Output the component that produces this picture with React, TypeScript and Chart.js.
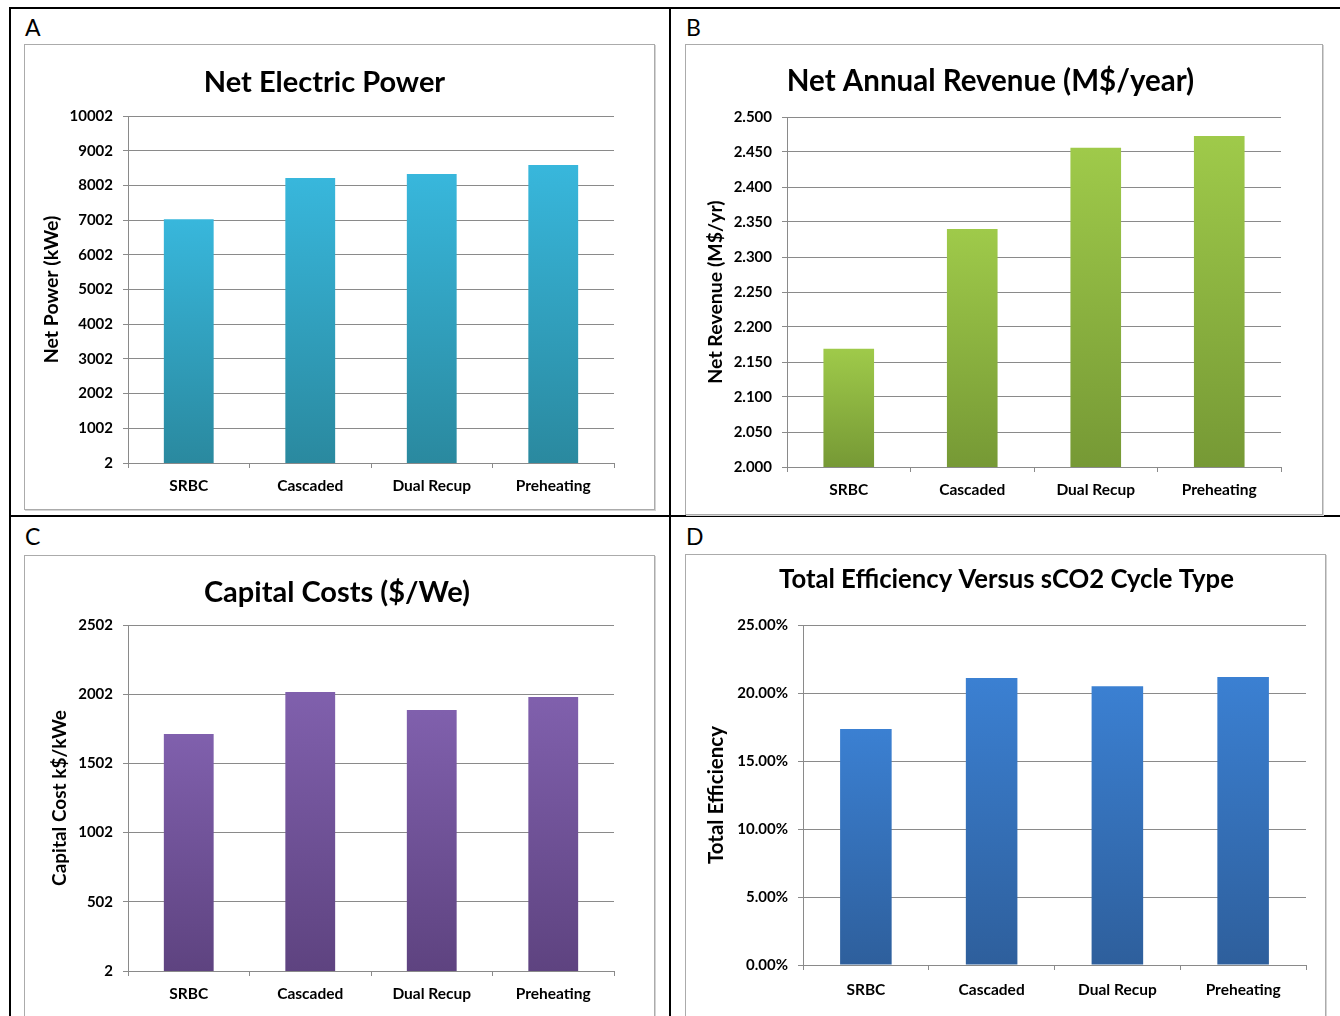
import React, { useEffect, useRef } from "react";
import { Chart, registerables } from "chart.js";

Chart.register(...registerables);

// ---------- data ----------
const categories = ["SRBC", "Cascaded", "Dual Recup", "Preheating"];

const powerValues = [7030, 8215, 8330, 8590];
const powerTicks = [2, 1002, 2002, 3002, 4002, 5002, 6002, 7002, 8002, 9002, 10002];

const revenueValues = [2.169, 2.34, 2.456, 2.473];
const revenueTicks = [2.0, 2.05, 2.1, 2.15, 2.2, 2.25, 2.3, 2.35, 2.4, 2.45, 2.5];

const costValues = [1714, 2018, 1888, 1982];
const costTicks = [2, 502, 1002, 1502, 2002, 2502];

const efficiencyValues = [17.35, 21.1, 20.5, 21.18];
const efficiencyTicks = [0, 5, 10, 15, 20, 25];

const FONT = "Lato, 'Open Sans', 'DejaVu Sans', sans-serif";

type PanelProps = {
  letter: string;
  boxLeft: number;
  boxTop: number;
  boxWidth: number;
  boxHeight: number;
  canvasHeight: number;
  title: string;
  titleSize: number;
  titlePadTop: number;
  titlePadBottom: number;
  yTitle: string;
  yTitleSize: number;
  yTitlePad: number;
  yWidth: number;
  xHeight: number;
  xLabelPad: number;
  leftPad: number;
  rightPad: number;
  values: number[];
  ticks: number[];
  fmt: (v: number) => string;
  topColor: string;
  bottomColor: string;
  labelLeft: number;
  labelTop: number;
};

function BarPanel(p: PanelProps) {
  const ref = useRef<HTMLCanvasElement | null>(null);
  useEffect(() => {
    if (!ref.current) return;
    const tMin = p.ticks[0];
    const tMax = p.ticks[p.ticks.length - 1];
    const chart = new Chart(ref.current, {
      type: "bar",
      data: {
        labels: categories,
        datasets: [
          {
            data: p.values,
            borderWidth: 0,
            categoryPercentage: 1,
            barPercentage: 0.41,
            backgroundColor: (ctx: any) => {
              const c = ctx.chart;
              const area = c.chartArea;
              if (!area || ctx.type !== "data" || !c.scales.y) return p.bottomColor;
              const top = c.scales.y.getPixelForValue(ctx.raw as number);
              const g = c.ctx.createLinearGradient(0, top, 0, area.bottom);
              g.addColorStop(0, p.topColor);
              g.addColorStop(1, p.bottomColor);
              return g;
            },
          },
        ],
      },
      options: {
        responsive: false,
        animation: false,
        devicePixelRatio: 1,
        layout: { padding: { top: 0, left: p.leftPad, bottom: 0, right: p.rightPad } },
        plugins: {
          legend: { display: false },
          tooltip: { enabled: false },
          title: {
            display: true,
            text: p.title,
            color: "#000",
            font: { family: FONT, size: p.titleSize, weight: "bold" },
            padding: { top: p.titlePadTop, bottom: p.titlePadBottom },
          },
        },
        scales: {
          x: {
            grid: {
              display: true,
              drawOnChartArea: false,
              drawTicks: true,
              tickLength: 5,
              color: "#8a8a8a",
              offset: true,
            },
            border: { display: true, color: "#8a8a8a", width: 1 },
            ticks: {
              color: "#000",
              padding: p.xLabelPad,
              font: { family: FONT, size: 15.5, weight: "bold" },
              maxRotation: 0,
            },
            afterFit: (s: any) => {
              s.height = p.xHeight;
            },
          },
          y: {
            min: tMin,
            max: tMax,
            grid: {
              color: "#8a8a8a",
              drawTicks: true,
              tickLength: 5,
            },
            border: { display: true, color: "#8a8a8a", width: 1 },
            ticks: {
              color: "#000",
              padding: 10,
              font: { family: FONT, size: 15, weight: "bold" },
              callback: (v: any) => p.fmt(Number(v)),
            },
            afterBuildTicks: (s: any) => {
              s.ticks = p.ticks.map((v) => ({ value: v }));
            },
            afterFit: (s: any) => {
              s.width = p.yWidth;
            },
            title: {
              display: true,
              text: p.yTitle,
              color: "#000",
              font: { family: FONT, size: p.yTitleSize, weight: "bold" },
              padding: { top: p.yTitlePad, bottom: 0 },
            },
          },
        },
      },
    } as any);
    return () => chart.destroy();
  }, []);

  const cw = p.boxWidth - 2;
  return (
    <>
      <div
        style={{
          position: "absolute",
          left: p.labelLeft,
          top: p.labelTop,
          fontFamily: FONT,
          fontSize: 23,
          lineHeight: "23px",
          color: "#000",
        }}
      >
        {p.letter}
      </div>
      <div
        style={{
          position: "absolute",
          left: p.boxLeft,
          top: p.boxTop,
          width: p.boxWidth - 2,
          height: p.boxHeight - 2,
          border: "1px solid #ababab",
          boxShadow: "1px 1px 0 #d4d4d4",
          background: "#fff",
        }}
      >
        <canvas
          ref={ref}
          width={cw}
          height={p.canvasHeight}
          style={{ display: "block", width: cw, height: p.canvasHeight }}
        />
      </div>
    </>
  );
}

export default function App() {
  const line = (l: number, t: number, w: number, h: number) => (
    <div style={{ position: "absolute", left: l, top: t, width: w, height: h, background: "#000" }} />
  );
  return (
    <div
      style={{
        position: "absolute",
        left: 0,
        top: 0,
        width: 1340,
        height: 1016,
        overflow: "hidden",
        background: "#fff",
      }}
    >
      {line(9, 7, 1331, 2)}
      {line(9, 7, 2, 1009)}
      {line(669, 7, 2, 1009)}
      {line(9, 515, 1331, 2)}

      <BarPanel
        letter="A"
        labelLeft={25}
        labelTop={16}
        boxLeft={24}
        boxTop={44}
        boxWidth={631}
        boxHeight={466}
        canvasHeight={464}
        title="Net Electric Power"
        titleSize={29}
        titlePadTop={20.6}
        titlePadBottom={15.6}
        yTitle="Net Power (kWe)"
        yTitleSize={19.5}
        yTitlePad={5.3}
        yWidth={93}
        xHeight={46}
        xLabelPad={9}
        leftPad={10}
        rightPad={40}
        values={powerValues}
        ticks={powerTicks}
        fmt={(v) => String(Math.round(v))}
        topColor="#38b7dc"
        bottomColor="#2a899f"
      />
      <BarPanel
        letter="B"
        labelLeft={686}
        labelTop={16}
        boxLeft={685}
        boxTop={44}
        boxWidth={638}
        boxHeight={471}
        canvasHeight={469}
        title="Net Annual Revenue (M$/year)"
        titleSize={29.5}
        titlePadTop={18.3}
        titlePadBottom={18.3}
        yTitle="Net Revenue (M$/yr)"
        yTitleSize={19.5}
        yTitlePad={4.3}
        yWidth={87}
        xHeight={47}
        xLabelPad={9}
        leftPad={14}
        rightPad={41}
        values={revenueValues}
        ticks={revenueTicks}
        fmt={(v) => v.toFixed(3)}
        topColor="#9fca4a"
        bottomColor="#769935"
      />
      <BarPanel
        letter="C"
        labelLeft={25}
        labelTop={525}
        boxLeft={24}
        boxTop={555}
        boxWidth={631}
        boxHeight={463}
        canvasHeight={461}
        title="Capital Costs ($/We)"
        titleSize={29}
        titlePadTop={19.6}
        titlePadBottom={14.6}
        yTitle="Capital Cost k$/kWe"
        yTitleSize={19}
        yTitlePad={-11.4}
        yWidth={68}
        xHeight={46}
        xLabelPad={9}
        leftPad={35}
        rightPad={40}
        values={costValues}
        ticks={costTicks}
        fmt={(v) => String(Math.round(v))}
        topColor="#8060ad"
        bottomColor="#5e4380"
      />
      <BarPanel
        letter="D"
        labelLeft={686}
        labelTop={525}
        boxLeft={685}
        boxTop={554}
        boxWidth={641}
        boxHeight={463}
        canvasHeight={460}
        title="Total Efficiency Versus sCO2 Cycle Type"
        titleSize={25.7}
        titlePadTop={9.6}
        titlePadBottom={29.6}
        yTitle="Total Efficiency"
        yTitleSize={20.5}
        yTitlePad={-3.3}
        yWidth={96}
        xHeight={50}
        xLabelPad={11}
        leftPad={21}
        rightPad={19}
        values={efficiencyValues}
        ticks={efficiencyTicks}
        fmt={(v) => v.toFixed(2) + "%"}
        topColor="#3b80d2"
        bottomColor="#2e5f9c"
      />
    </div>
  );
}
